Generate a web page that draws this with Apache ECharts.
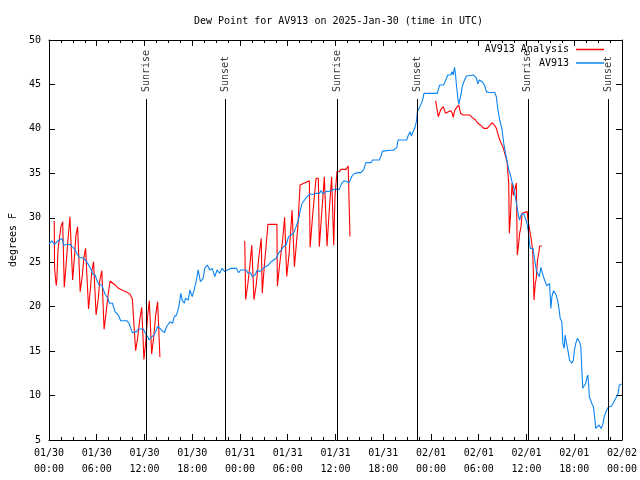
<!DOCTYPE html>
<html>
<head>
<meta charset="utf-8">
<script src="https://cdn.jsdelivr.net/npm/echarts@6/dist/echarts.min.js"></script>
<style>html,body{margin:0;padding:0;background:#fff}#c{width:640px;height:480px}</style>
</head>
<body>
<div id="c"></div>
<script>
// hours since 2025-01-30 00:00 UTC
const xTickLabels = ['01/30\n00:00','01/30\n06:00','01/30\n12:00','01/30\n18:00','01/31\n00:00','01/31\n06:00','01/31\n12:00','01/31\n18:00','02/01\n00:00','02/01\n06:00','02/01\n12:00','02/01\n18:00','02/02\n00:00'];
const eventNames = ['Sunrise','Sunset','Sunrise','Sunset','Sunrise','Sunset'];
const eventHours = [12.18, 22.2, 36.22, 46.25, 60.17, 70.28];

const blueHours = [0.0,0.38,0.67,1.0,1.42,1.7,1.84,2.17,2.67,2.88,3.17,3.5,3.8,4.34,4.67,4.97,5.26,5.47,5.8,6.0,6.3,6.64,6.85,7.05,7.39,7.6,7.97,8.3,8.72,9.0,9.77,10.06,10.27,10.48,11.0,11.23,11.85,12.06,12.4,12.6,12.9,13.2,13.4,13.65,13.94,14.15,14.5,14.78,15.2,15.53,15.74,16.03,16.32,16.57,16.74,17.0,17.15,17.5,17.7,18.0,18.24,18.53,18.74,19.03,19.37,19.57,19.9,20.2,20.5,20.83,21.12,21.45,21.75,22.08,22.41,22.83,23.54,23.83,24.08,24.8,25.0,25.33,25.55,25.9,26.17,26.46,26.76,27.09,27.59,27.92,28.55,28.84,29.18,29.47,29.8,30.1,30.43,30.72,31.05,31.34,31.55,31.77,32.1,32.43,32.72,33.27,33.56,33.97,34.18,34.4,34.81,35.44,35.78,36.48,36.78,37.1,37.44,37.73,38.03,38.28,38.78,39.2,39.53,39.82,40.45,40.66,41.5,41.7,41.9,42.95,43.3,43.7,43.87,44.95,45.12,45.37,45.54,45.75,45.96,46.17,46.29,46.5,46.8,47.0,47.12,48.8,49.09,49.55,49.71,50.12,50.46,50.67,50.8,50.96,51.09,51.2,51.38,51.5,51.72,51.93,52.22,52.47,53.38,53.72,53.88,54.06,54.43,54.72,54.97,55.26,56.0,56.22,56.39,56.64,56.94,57.14,57.35,57.56,57.77,57.98,58.18,58.39,58.6,58.81,59.02,59.14,59.3,59.64,59.94,60.07,60.27,60.36,60.48,60.82,60.98,61.23,61.39,61.61,61.82,62.01,62.27,62.57,62.9,63.07,63.2,63.4,63.74,63.95,64.11,64.24,64.45,64.57,64.74,64.86,65.07,65.28,65.4,65.7,65.9,66.03,66.2,66.4,66.65,66.83,66.95,67.08,67.24,67.45,67.58,67.71,67.79,67.9,68.08,68.2,68.41,68.54,68.71,68.96,69.12,69.37,69.58,69.78,69.99,70.28,70.7,70.99,71.33,71.53,71.66,71.96];
const blueValues = [27.1,27.4,27.0,27.3,27.6,27.6,26.9,27.0,27.0,26.75,26.56,26.0,25.55,25.44,25.14,24.7,24.24,23.7,23.56,23.0,22.44,22.44,21.88,21.4,20.94,20.38,20.38,19.44,19.06,18.42,18.42,18.13,17.56,17.07,17.19,17.49,17.49,17.07,16.62,16.25,16.62,16.8,17.19,17.8,17.56,17.74,17.07,17.74,18.31,18.13,18.87,19.06,20.0,21.5,20.75,20.38,20.94,20.75,21.88,21.13,21.88,23.0,24.13,22.81,23.19,24.31,24.69,24.13,24.31,23.38,24.13,23.75,24.31,23.94,24.13,24.31,24.31,23.82,24.13,24.13,23.75,23.82,23.38,23.56,24.13,23.94,24.2,24.43,24.69,25.06,25.44,26.0,26.38,26.75,26.94,27.88,28.06,28.25,29.0,29.75,30.69,31.55,32.0,32.37,32.64,32.64,32.75,32.75,33.05,32.7,32.94,33.01,33.2,33.2,33.87,34.17,34.06,33.95,34.62,34.93,35.08,35.08,35.38,36.2,36.2,36.5,36.5,36.88,37.5,37.6,37.6,37.93,38.75,38.75,39.2,39.69,39.2,39.69,40.06,40.81,41.94,42.13,42.87,43.44,44.0,44.0,44.94,44.94,45.2,46.06,46.06,46.44,46.06,46.93,46.06,44.94,43.44,42.8,43.62,44.75,45.5,45.95,46.06,45.69,45.05,45.5,45.31,44.94,44.19,44.1,44.1,43.62,42.3,41.0,39.88,38.4,37.3,36.4,35.4,34.81,34.06,33.5,32.37,31.25,30.12,29.75,30.31,30.5,29.75,29.38,28.25,27.31,26.56,26.56,25.62,24.13,23.75,23.38,24.43,23.75,23.0,22.33,22.63,19.81,21.13,21.8,21.31,20.56,19.62,18.69,18.31,15.88,15.31,16.81,15.69,14.75,14.0,13.63,14.0,15.13,15.88,16.44,16.06,15.5,13.07,10.81,11.07,11.38,11.94,12.31,11.56,9.87,10.06,9.13,8.75,7.81,6.31,6.2,6.69,6.31,6.69,7.62,8.19,8.68,8.83,9.31,9.87,10.25,11.19,11.3];

const redHours = [0.66,0.70,0.91,1.0,1.13,1.5,1.72,1.92,2.13,2.38,2.63,2.97,3.19,3.38,3.59,3.92,4.19,4.38,4.6,4.97,5.2,5.38,5.6,5.92,6.2,6.39,6.64,6.92,7.2,7.45,7.68,7.89,8.3,8.73,9.35,9.89,10.18,10.48,10.64,10.89,11.14,11.4,11.65,11.93,12.15,12.4,12.61,12.9,13.15,13.4,13.65,13.94,
  18.0,
  24.6,24.71,24.98,25.23,25.48,25.76,26.05,26.36,26.67,26.8,27.05,27.3,27.51,28.64,28.7,28.99,29.36,29.61,29.87,30.18,30.55,30.84,31.27,31.55,32.72,32.81,33.15,33.56,33.85,33.97,34.27,34.6,34.81,34.94,35.22,35.52,35.78,35.94,36.19,36.48,36.69,37.32,37.6,37.73,37.82,
  43.0,
  48.58,48.92,49.21,49.55,49.84,50.12,50.46,50.67,50.8,51.0,51.21,51.5,51.72,52.05,52.88,53.18,53.6,53.88,54.22,54.64,55.06,55.47,55.68,55.97,56.22,56.39,56.64,56.85,57.06,57.35,57.56,57.77,57.85,57.98,58.19,58.35,58.73,58.85,59.02,59.14,59.32,59.45,59.66,60.09,60.22,60.41,60.58,60.78,60.86,60.95,61.11,61.23,61.39,61.61,61.64,61.94];
const redValues = [29.64,24.3,22.36,23.2,26.4,29.0,29.56,22.18,24.5,27.5,30.1,23.0,25.5,28.0,29.0,21.69,23.5,25.5,26.56,19.74,22.0,24.0,25.06,19.06,21.0,23.0,24.05,17.45,19.5,21.5,22.89,22.89,22.44,22.06,21.8,21.58,21.39,20.83,18.5,15.05,16.5,18.5,19.93,14.07,16.0,19.0,20.67,14.67,16.5,19.0,20.56,14.3,
  null,
  27.4,20.8,22.5,24.5,26.9,20.8,22.5,25.5,27.7,21.5,24.5,27.0,29.26,29.26,22.3,24.8,27.5,30.05,23.4,26.0,30.88,24.5,29.0,33.69,34.17,26.68,30.5,34.44,34.44,26.75,30.5,34.6,34.6,26.8,30.9,34.6,26.9,32.4,35.2,35.2,35.45,35.45,35.83,35.83,27.9,
  null,
  43.18,41.37,42.13,42.5,41.75,41.9,42.05,41.8,41.3,42.13,42.13,42.7,41.75,41.56,41.56,41.3,41.0,40.63,40.44,40.06,40.06,40.44,40.7,40.44,40.06,39.5,38.75,38.56,37.93,37.0,36.3,33.9,28.25,30.1,33.9,32.5,33.9,25.8,27.1,28.25,29.0,30.5,30.69,30.69,29.6,28.6,27.7,26.4,24.1,20.75,22.6,23.2,25.25,26.4,26.83,26.83];

const FONT = 'DejaVu Sans Mono';
const blueData = blueHours.map((h, i) => [h, blueValues[i]]);
const redData = redHours.map((h, i) => [h, redValues[i] === null ? '-' : redValues[i]]);
const labelY = 44.15, lineTop = 43.36, yMin = 5;

const chart = echarts.init(document.getElementById('c'), null, {renderer: 'canvas'});
const axisCommon = {
  axisLine: {show: true, onZero: false, lineStyle: {color: '#000', width: 1}},
  splitLine: {show: false}
};
chart.setOption({
  animation: false,
  backgroundColor: '#fff',
  textStyle: {fontFamily: FONT},
  title: {
    text: 'Dew Point for AV913 on 2025-Jan-30 (time in UTC)',
    left: 189, top: 11,
    textStyle: {fontFamily: FONT, fontSize: 10, fontWeight: 'normal', color: '#000'}
  },
  legend: {
    data: ['AV913 Analysis', 'AV913'],
    orient: 'vertical', right: 31, top: 38.5, align: 'right',
    icon: 'rect', itemWidth: 28, itemHeight: 1.5, itemGap: 1.5,
    textStyle: {fontFamily: FONT, fontSize: 10, color: '#000', lineHeight: 12, padding: [0, 2, 0, 0]},
    selectedMode: false
  },
  grid: {left: 47, right: 18, top: 40, bottom: 40, containLabel: false},
  xAxis: [
    Object.assign({}, axisCommon, {
      type: 'value', min: 0, max: 72, interval: 6, position: 'bottom',
      axisTick: {show: true, inside: true, length: 6, lineStyle: {color: '#000'}},
      minorTick: {show: true, splitNumber: 4, length: 3, lineStyle: {color: '#000'}},
      axisLabel: {
        margin: 5, color: '#000', fontFamily: FONT, fontSize: 10, lineHeight: 16,
        formatter: v => xTickLabels[Math.round(v / 6)]
      }
    }),
    Object.assign({}, axisCommon, {
      type: 'value', min: 0, max: 72, interval: 6, position: 'top',
      axisTick: {show: true, inside: true, length: 6, lineStyle: {color: '#000'}},
      minorTick: {show: true, splitNumber: 4, length: 3, lineStyle: {color: '#000'}},
      axisLabel: {show: false}
    })
  ],
  yAxis: [
    Object.assign({}, axisCommon, {
      type: 'value', min: 5, max: 50, interval: 5, position: 'left',
      name: 'degrees F', nameLocation: 'middle', nameRotate: 90, nameGap: 31,
      nameTextStyle: {fontFamily: FONT, fontSize: 10, color: '#000'},
      axisTick: {show: true, inside: true, length: 6, lineStyle: {color: '#000'}},
      axisLabel: {margin: 8, color: '#000', fontFamily: FONT, fontSize: 10}
    }),
    Object.assign({}, axisCommon, {
      type: 'value', min: 5, max: 50, interval: 5, position: 'right',
      axisTick: {show: true, inside: true, length: 6, lineStyle: {color: '#000'}},
      axisLabel: {show: false}
    })
  ],
  series: [
    {
      name: 'AV913 Analysis', type: 'line', data: redData, showSymbol: false, symbol: 'none',
      connectNulls: false, color: '#ff0000', lineStyle: {color: '#ff0000', width: 1.1}, silent: true
    },
    {
      name: 'AV913', type: 'line', data: blueData, showSymbol: false, symbol: 'none',
      color: '#0a84f5', lineStyle: {color: '#0a84f5', width: 1.1}, silent: true
    },
    {
      name: 'events', type: 'scatter', symbolSize: 1, silent: true,
      itemStyle: {color: 'rgba(0,0,0,0)'},
      data: eventHours.map(h => [h, labelY]),
      label: {
        show: true, position: 'inside', rotate: 90, align: 'left', verticalAlign: 'middle',
        color: '#000', fontFamily: FONT, fontSize: 10,
        formatter: p => eventNames[p.dataIndex]
      },
      markLine: {
        silent: true, symbol: ['none', 'none'], animation: false,
        label: {show: false},
        lineStyle: {color: '#000', width: 1, type: 'solid'},
        data: eventHours.map(h => [{coord: [h, yMin]}, {coord: [h, lineTop]}])
      }
    }
  ]
});
</script>
</body>
</html>
